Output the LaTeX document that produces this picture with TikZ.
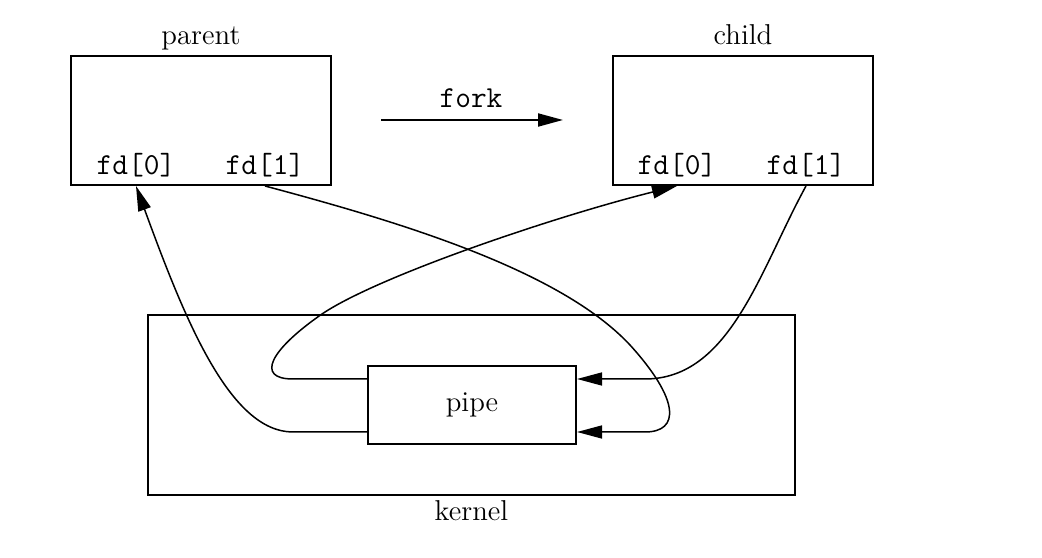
\documentclass[tikz,border=0pt]{standalone}
\usetikzlibrary{arrows.meta,calc}

\begin{document}
\begin{tikzpicture}[
    x=0.4pt, y=-0.4pt,
    box/.style={draw, line width=0.8pt, inner sep=0pt},
    txt/.style={anchor=base, font=\fontsize{11.5}{13}\selectfont},
    fd/.style={anchor=base, font=\fontsize{12.2}{14}\selectfont\ttfamily},
    arr/.style={-{Triangle[length=10pt, width=5.2pt]}, line width=0.6pt}
]
\useasboundingbox (0,0) rectangle (1042,558);
% processes
\node[box, minimum width=104pt, minimum height=51.6pt] (parent) at (201,120.5) {};
\node[box, minimum width=104pt, minimum height=51.6pt] (child) at (743,120.5) {};
\node[txt] (parentlbl) at (201,45) {parent};
\node[txt] (childlbl) at (743,45) {child};
\node[fd] (pfd0) at (136,175) {fd[0]};
\node[fd] (pfd1) at (265,175) {fd[1]};
\node[fd] (cfd0) at (677,175) {fd[0]};
\node[fd] (cfd1) at (806,175) {fd[1]};
% fork
\coordinate (forkstart) at (381,120);
\coordinate (forkend) at (563,120);
\node[fd] (forklbl) at (471,108) {fork};
\draw[arr, line width=0.8pt] (forkstart) -- (forkend);
% kernel
\node[box, minimum width=258.8pt, minimum height=72pt] (kernel) at (471.5,405) {};
\node[txt] (kernellbl) at (471.5,521) {kernel};
\node[box, minimum width=83.2pt, minimum height=31.2pt, font=\fontsize{11.5}{13}\selectfont] (pipe) at (472,405) {pipe};
\coordinate (pin1) at ($(pipe.east)+(0,-26)$);
\coordinate (pin2) at ($(pipe.east)+(0,27)$);
\coordinate (pout1) at ($(pipe.west)+(0,-26)$);
\coordinate (pout2) at ($(pipe.west)+(0,27)$);
% connections
\draw[arr] (pout2) -- (293,432) .. controls (230,432) and (185,320) .. (parent.south -| pfd0);
\draw[arr] (parent.south -| pfd1) .. controls (400,222) and (560,270) .. (630,345)
    .. controls (680,400) and (680,432) .. (645,432) -- (pin2);
\draw[arr] (pout1) -- (293,379) .. controls (255,379) and (270,350) .. (322,314)
    .. controls (380,275) and (560,215) .. (child.south -| cfd0);
\draw[arr] (child.south -| cfd1) .. controls (760,270) and (730,379) .. (645,379) -- (pin1);
\end{tikzpicture}
\end{document}
